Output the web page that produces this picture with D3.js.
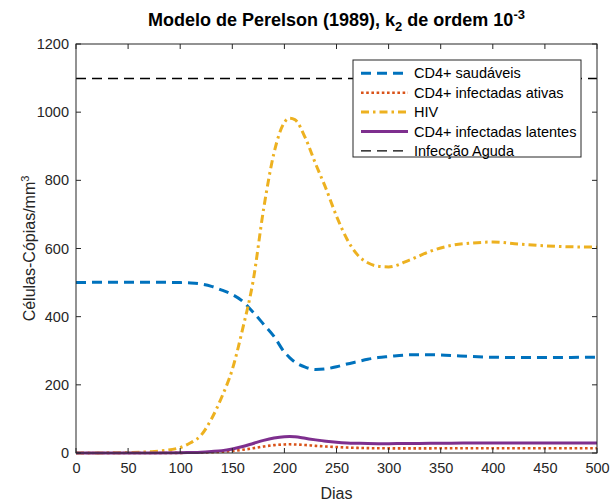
<!DOCTYPE html>
<html><head><meta charset="utf-8">
<script src="https://cdn.jsdelivr.net/npm/d3@7"></script>
<style>body{margin:0;background:#fff}svg{display:block}text{font-family:"Liberation Sans",Arial,sans-serif}</style>
</head><body><svg id="c" width="611" height="501"></svg>
<script>
const days = [0,25,50,75,100,110,120,130,140,150,160,170,180,190,200,205,210,220,230,240,250,260,270,280,290,300,320,340,360,380,400,425,450,475,500];
const saudaveis = [500,501,501,501,500,499,496,489,478,465,445,413,378,342,296,280,267,252,245,247,253,261,268,275,280,283,288,288.5,286,283,281,280,280,280.5,281];
const ativas = [0,0,0,0.1,0.4,0.8,1.3,2.3,3.6,6,9.5,14,19,23,25,25.5,25,23.5,21,19,17.5,16,15,14.3,13.9,13.7,13.6,13.7,13.8,13.9,14,14,14,14,14];
const hiv = [0,0.3,1.5,4.5,16,30,52,100,165,245,365,505,715,880,970,982,978,925,848,775,695,628,582,558,548,546,566,592,609,616,619,613,608,605,604];
const latentes = [0,0,0,0.2,0.8,1.5,2.5,4.5,7,12,19,28,37,44,48,48.5,47.5,43,38.5,34.5,31.5,29.5,28.5,27.8,27.5,27.5,27.8,28.3,28.8,29.2,29.3,29.3,29.2,29.1,29];
const infeccaoAguda = 1100;
const xTicks = [0,50,100,150,200,250,300,350,400,450,500];
const yTicks = [0,200,400,600,800,1000,1200];
const legendLabels = ["CD4+ saudáveis","CD4+ infectadas ativas","HIV","CD4+ infectadas latentes","Infecção Aguda"];

const svg = d3.select("#c");
const L=76,R=597,T=44,B=453;
const x = d3.scaleLinear().domain([0,500]).range([L,R]);
const y = d3.scaleLinear().domain([0,1200]).range([B,T]);
const axisCol="#262626";

const series = [
  {vals:saudaveis,color:"#0072BD",dash:"10,6",w:3},
  {vals:ativas,color:"#D95319",dash:"2.6,2.6",w:2.6},
  {vals:hiv,color:"#EDB120",dash:"8,4,2.5,4",w:3},
  {vals:latentes,color:"#7E2F8E",dash:null,w:3},
];
svg.append("defs").append("clipPath").attr("id","pc").append("rect").attr("x",L).attr("y",T-2).attr("width",R-L).attr("height",B-T+4);
const g = svg.append("g").attr("clip-path","url(#pc)");
const line = d3.line().x(d=>x(d[0])).y(d=>y(d[1])).curve(d3.curveMonotoneX);
series.forEach(s=>{
  g.append("path").datum(days.map((d,i)=>[d,s.vals[i]])).attr("d",line)
   .attr("fill","none").attr("stroke",s.color).attr("stroke-width",s.w)
   .attr("stroke-dasharray",s.dash);
});
const ya1100 = Math.round(y(infeccaoAguda))+0.5;
g.append("line").attr("x1",x(0)).attr("x2",x(500)).attr("y1",ya1100).attr("y2",ya1100)
 .attr("stroke","#000").attr("stroke-width",1.3).attr("stroke-dasharray","10,6");

// axes
const xa = svg.append("g").attr("transform",`translate(0,${B})`).call(d3.axisBottom(x).tickValues(xTicks).tickFormat(d3.format("d")).tickSize(0).tickPadding(10));
const ya = svg.append("g").attr("transform",`translate(${L},0)`).call(d3.axisLeft(y).tickValues(yTicks).tickFormat(d3.format("d")).tickSize(0).tickPadding(7));
[xa,ya].forEach(a=>{a.select(".domain").remove();a.selectAll("text").attr("font-size",14.5).attr("fill",axisCol).attr("font-family","Liberation Sans, Arial, sans-serif");});
// inner ticks
xTicks.forEach(v=>{
  svg.append("line").attr("x1",x(v)).attr("x2",x(v)).attr("y1",B).attr("y2",B-5).attr("stroke",axisCol);
  svg.append("line").attr("x1",x(v)).attr("x2",x(v)).attr("y1",T).attr("y2",T+5).attr("stroke",axisCol);
});
yTicks.forEach(v=>{
  svg.append("line").attr("x1",L).attr("x2",L+5).attr("y1",y(v)).attr("y2",y(v)).attr("stroke",axisCol);
  svg.append("line").attr("x1",R).attr("x2",R-5).attr("y1",y(v)).attr("y2",y(v)).attr("stroke",axisCol);
});
svg.append("rect").attr("x",L).attr("y",T).attr("width",R-L).attr("height",B-T).attr("fill","none").attr("stroke",axisCol).attr("stroke-width",1);

// labels
svg.append("text").attr("x",(L+R)/2).attr("y",499).attr("text-anchor","middle").attr("font-size",16).attr("fill",axisCol).text("Dias");
svg.append("text").attr("transform",`translate(35,${(T+B)/2}) rotate(-90)`).attr("text-anchor","middle").attr("font-size",16).attr("fill",axisCol)
  .html('Células-Cópias/mm<tspan dy="-6" font-size="11">3</tspan>');
const title = svg.append("text").attr("x",(L+R)/2).attr("y",26).attr("text-anchor","middle").attr("font-size",18).attr("font-weight","bold").attr("fill","#000");
title.append("tspan").text("Modelo de Perelson (1989), k");
title.append("tspan").attr("dy",5).attr("font-size",13).text("2");
title.append("tspan").attr("dy",-5).text(" de ordem 10");
title.append("tspan").attr("dy",-7).attr("font-size",13).text("-3");

// legend
const lg = svg.append("g");
lg.append("rect").attr("x",353).attr("y",60).attr("width",228).attr("height",97).attr("fill","#fff").attr("stroke",axisCol).attr("stroke-width",1);
const legStyles = series.map(s=>({color:s.color,dash:s.dash,w:s.w})).concat([{color:"#000",dash:"10,6",w:1.3}]);
legendLabels.forEach((lab,i)=>{
  const yy = 73.3 + i*19.4;
  const st = legStyles[i];
  lg.append("line").attr("x1",361).attr("x2",408).attr("y1",yy).attr("y2",yy).attr("stroke",st.color).attr("stroke-width",st.w).attr("stroke-dasharray",st.dash);
  lg.append("text").attr("x",414).attr("y",yy+5).attr("font-size",14.5).attr("fill","#000").text(lab);
});
</script></body></html>
